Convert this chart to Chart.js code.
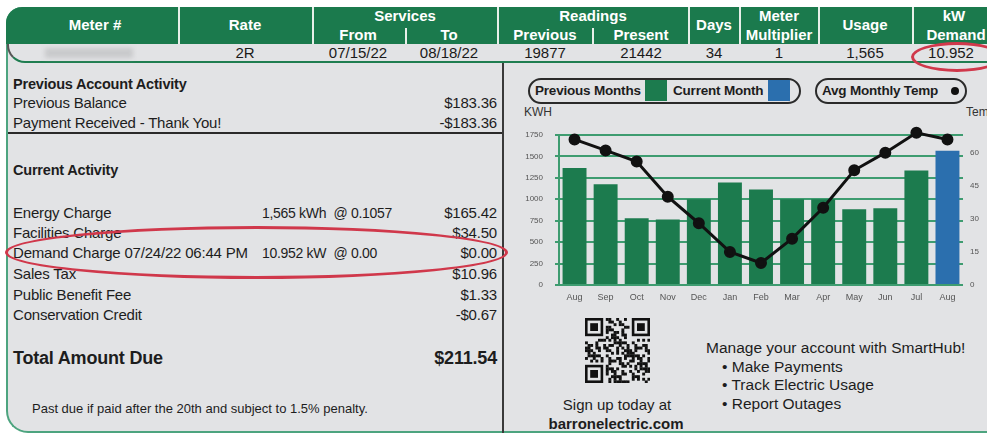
<!DOCTYPE html>
<html>
<head>
<meta charset="utf-8">
<script src="https://cdn.jsdelivr.net/npm/chart.js@4.4.0/dist/chart.umd.min.js"></script>
<style>
  html, body { margin: 0; padding: 0; background: #fff; }
  body { width: 987px; height: 435px; position: relative; overflow: hidden;
         font-family: "Liberation Sans", Arial, sans-serif; color: #1d1d1d; }
  .abs { position: absolute; white-space: nowrap; }
  #sheet { position: absolute; left: 6px; top: 7px; width: 995px; height: 424px; background: #e2e3e5;
           border-left: 2px solid #4da47f; border-bottom: 2px solid #4da47f; border-radius: 16px 0 0 22px; }
  #header { position: absolute; left: 6px; top: 7px; width: 995px; height: 37px; background: #1b7a4d;
            border-top-left-radius: 16px; }
  #rowline { position: absolute; left: 7px; top: 30px; width: 995px; height: 31px;
             border-left: 2px solid #555; border-bottom: 2px solid #1f7d50; border-bottom-left-radius: 18px; }
  .sep { position: absolute; width: 2px; background: #e8efe9; }
  .h { position: absolute; color: #fff; font-weight: bold; font-size: 15px; line-height: 18px;
       text-align: center; white-space: nowrap; transform: translateX(-50%); }
  .d { position: absolute; font-size: 15px; line-height: 18px; text-align: center; white-space: nowrap;
       transform: translateX(-50%); top: 44px; color: #1a1a1a; }
  .t { position: absolute; font-size: 15px; line-height: 18px; letter-spacing: -0.2px; white-space: nowrap; }
  .b { font-weight: bold; font-size: 14.5px; }
  .r { text-align: right; }
  .m { font-size: 14px; letter-spacing: -0.3px; }
  .pill { position: absolute; height: 26px; box-sizing: border-box; border: 2px solid #2a2a2a; border-radius: 14px; }
  .lg { position: absolute; font-weight: bold; font-size: 13.5px; line-height: 18px; letter-spacing: -0.2px; top: 82px; white-space: nowrap; }
  .sw { position: absolute; top: 80px; width: 22px; height: 21px; }
  .ell { position: absolute; border: 3px solid #d0384b; border-radius: 50%; box-sizing: border-box; }
</style>
</head>
<body>
<div id="sheet"></div>
<div id="rowline"></div>
<div id="header"></div>

<!-- header separators -->
<div class="sep" style="left:178px;top:7px;height:37px"></div>
<div class="sep" style="left:312px;top:7px;height:37px"></div>
<div class="sep" style="left:405px;top:28px;height:16px"></div>
<div class="sep" style="left:497px;top:7px;height:37px"></div>
<div class="sep" style="left:592px;top:28px;height:16px"></div>
<div class="sep" style="left:688px;top:7px;height:37px"></div>
<div class="sep" style="left:739px;top:7px;height:37px"></div>
<div class="sep" style="left:818px;top:7px;height:37px"></div>
<div class="sep" style="left:912px;top:7px;height:37px"></div>

<div class="h" style="left:95px;top:16px">Meter #</div>
<div class="h" style="left:245px;top:16px">Rate</div>
<div class="h" style="left:405px;top:7px">Services</div>
<div class="h" style="left:358px;top:26px">From</div>
<div class="h" style="left:449px;top:26px">To</div>
<div class="h" style="left:593px;top:7px">Readings</div>
<div class="h" style="left:545px;top:26px">Previous</div>
<div class="h" style="left:641px;top:26px">Present</div>
<div class="h" style="left:714px;top:16px">Days</div>
<div class="h" style="left:779px;top:7px">Meter</div>
<div class="h" style="left:779px;top:26px">Multiplier</div>
<div class="h" style="left:865px;top:16px">Usage</div>
<div class="h" style="left:954px;top:7px">kW</div>
<div class="h" style="left:956px;top:26px">Demand</div>

<!-- data row -->
<div class="abs" style="left:45px;top:48px;width:88px;height:10px;background:#c9cacc;filter:blur(2px)"></div>
<div class="d" style="left:245px">2R</div>
<div class="d" style="left:358px">07/15/22</div>
<div class="d" style="left:449px">08/18/22</div>
<div class="d" style="left:545px">19877</div>
<div class="d" style="left:641px">21442</div>
<div class="d" style="left:714px">34</div>
<div class="d" style="left:779px">1</div>
<div class="d" style="left:865px">1,565</div>
<div class="d" style="left:951px">10.952</div>

<!-- panel lines -->
<div class="abs" style="left:502px;top:63px;width:2px;height:370px;background:#3a3a3a"></div>
<div class="abs" style="left:8px;top:132px;width:494px;height:2px;background:#2a2a2a"></div>

<!-- left panel -->
<div class="t b" style="left:13px;top:75px">Previous Account Activity</div>
<div class="t" style="left:13px;top:94px">Previous Balance</div>
<div class="t r" style="right:490px;top:94px">$183.36</div>
<div class="t" style="left:13px;top:114px">Payment Received - Thank You!</div>
<div class="t r" style="right:490px;top:114px">-$183.36</div>

<div class="t b" style="left:13px;top:161px">Current Activity</div>
<div class="t" style="left:13px;top:204px">Energy Charge</div>
<div class="t m" style="left:262px;top:204px">1,565 kWh&nbsp; @ 0.1057</div>
<div class="t r" style="right:490px;top:204px">$165.42</div>
<div class="t" style="left:13px;top:224px">Facilities Charge</div>
<div class="t r" style="right:490px;top:224px">$34.50</div>
<div class="t" style="left:13px;top:244px">Demand Charge 07/24/22 06:44 PM</div>
<div class="t m" style="left:262px;top:244px">10.952 kW&nbsp; @ 0.00</div>
<div class="t r" style="right:490px;top:244px">$0.00</div>
<div class="t" style="left:13px;top:265px">Sales Tax</div>
<div class="t r" style="right:490px;top:265px">$10.96</div>
<div class="t" style="left:13px;top:286px">Public Benefit Fee</div>
<div class="t r" style="right:490px;top:286px">$1.33</div>
<div class="t" style="left:13px;top:306px">Conservation Credit</div>
<div class="t r" style="right:490px;top:306px">-$0.67</div>

<div class="t" style="left:13px;top:347px;font-weight:bold;font-size:18px;line-height:22px">Total Amount Due</div>
<div class="t r" style="right:490px;top:347px;font-weight:bold;font-size:18px;line-height:22px">$211.54</div>
<div class="t" style="left:32px;top:400px;font-size:13px;letter-spacing:0">Past due if paid after the 20th and subject to 1.5% penalty.</div>

<!-- chart legend -->
<div class="pill" style="left:528px;top:78px;width:273px"></div>
<div class="lg" style="left:535px">Previous Months</div>
<div class="sw" id="swPrev" style="left:645px"></div>
<div class="lg" style="left:673px">Current Month</div>
<div class="sw" id="swCur" style="left:768px"></div>
<div class="pill" style="left:815px;top:78px;width:152px"></div>
<div class="lg" style="left:822px">Avg Monthly Temp</div>
<div class="abs" style="left:951px;top:87px;width:8px;height:8px;border-radius:50%;background:#111"></div>

<div class="abs" style="left:524px;top:105px;font-size:12px;line-height:14px;color:#333">KWH</div>
<div class="abs" style="left:966px;top:105px;font-size:12px;line-height:14px;color:#333">Temp</div>

<canvas id="usageChart" width="482" height="200" style="position:absolute;left:505px;top:105px"></canvas>

<!-- right panel bottom -->
<canvas id="qr" width="65" height="65" style="position:absolute;left:585px;top:318px"></canvas>
<div class="t" style="left:617px;top:396px;transform:translateX(-50%);letter-spacing:0">Sign up today at</div>
<div class="t" style="left:616px;top:415px;transform:translateX(-50%);font-weight:bold;letter-spacing:0">barronelectric.com</div>
<div class="t" style="left:706px;top:339px;font-size:15.5px;letter-spacing:0">Manage your account with SmartHub!</div>
<div class="t" style="left:722px;top:358px;font-size:15.5px;letter-spacing:0">&bull; Make Payments</div>
<div class="t" style="left:722px;top:376px;font-size:15.5px;letter-spacing:0">&bull; Track Electric Usage</div>
<div class="t" style="left:722px;top:395px;font-size:15.5px;letter-spacing:0">&bull; Report Outages</div>

<!-- red annotation circles -->
<div class="ell" style="left:5px;top:226px;width:503px;height:53px"></div>
<div class="ell" style="left:911px;top:42px;width:92px;height:30px"></div>

<script>
// monthly usage, Aug 2021 .. Aug 2022
const months = ['Aug', 'Sep', 'Oct', 'Nov', 'Dec', 'Jan', 'Feb', 'Mar', 'Apr', 'May', 'Jun', 'Jul', 'Aug'];
const kwhUsage = [1365, 1175, 780, 765, 1000, 1195, 1115, 1000, 1000, 885, 895, 1335, 1565];
const avgTemp = [66, 61, 56, 40, 28, 15, 10, 21, 35, 52, 60, 69, 66];
const tempTicks = [0, 15, 30, 45, 60];

const green = '#1c7b4e';
const blue = '#2b6fae';
const gridGreen = '#3e9c70';

document.getElementById('swPrev').style.background = green;
document.getElementById('swCur').style.background = blue;

// last bar is the current month
var barColors = [];
for (var i = 0; i < months.length; i++) {
    barColors.push(i === months.length - 1 ? blue : green);
}

const tickFont = { family: '"Liberation Sans", Arial, sans-serif', size: 8 };

const usageChart = new Chart(document.getElementById('usageChart'), {
    type: 'bar',
    data: {
        labels: months,
        datasets: [{
            type: 'line',
            label: 'Avg Monthly Temp',
            data: avgTemp,
            yAxisID: 'yTemp',
            borderColor: '#111',
            borderWidth: 3,
            pointRadius: 4.5,
            pointBackgroundColor: '#111',
            pointBorderColor: '#111',
            tension: 0,
            clip: false,
            order: 0
        }, {
            type: 'bar',
            label: 'KWH',
            data: kwhUsage,
            yAxisID: 'yKwh',
            backgroundColor: barColors,
            barPercentage: 0.77,
            categoryPercentage: 1,
            order: 1
        }]
    },
    options: {
        responsive: false,
        animation: false,
        layout: { padding: { top: 30, left: 0, right: 0, bottom: 0 }, autoPadding: false },
        plugins: { legend: { display: false }, tooltip: { enabled: false } },
        scales: {
            x: {
                grid: { display: false, drawTicks: false },
                border: { display: false },
                ticks: { font: { family: tickFont.family, size: 9 }, color: '#555', padding: 7, maxRotation: 0, autoSkip: false },
                afterFit: function(s) { s.height = 20; }
            },
            yKwh: {
                position: 'left',
                min: 0,
                max: 1750,
                ticks: { stepSize: 250, font: tickFont, color: '#555', padding: 12,
                         callback: function(v) { return String(v); } },
                grid: { color: gridGreen, lineWidth: 2, tickLength: 4 },
                border: { color: gridGreen, width: 2 },
                afterFit: function(s) { s.width = 54; }
            },
            yTemp: {
                position: 'right',
                min: 0,
                max: 68,
                grid: { drawOnChartArea: false, drawTicks: false },
                border: { display: false },
                ticks: { font: tickFont, color: '#555', padding: 7 },
                afterBuildTicks: function(s) { s.ticks = tempTicks.map(function(v) { return { value: v }; }); },
                afterFit: function(s) { s.width = 24; }
            }
        }
    }
});

// QR-style square (decorative only)
(function() {
    var cv = document.getElementById('qr');
    var ctx = cv.getContext('2d');
    var n = 25, s = cv.width / n;
    ctx.fillStyle = '#e2e3e5';
    ctx.fillRect(0, 0, cv.width, cv.height);
    ctx.fillStyle = '#111';
    function finder(cx, cy) {
        ctx.fillRect(cx * s, cy * s, 7 * s, 7 * s);
        ctx.fillStyle = '#e2e3e5';
        ctx.fillRect((cx + 1) * s, (cy + 1) * s, 5 * s, 5 * s);
        ctx.fillStyle = '#111';
        ctx.fillRect((cx + 2) * s, (cy + 2) * s, 3 * s, 3 * s);
    }
    for (var y = 0; y < n; y++) {
        for (var x = 0; x < n; x++) {
            if ((x < 8 && y < 8) || (x > 16 && y < 8) || (x < 8 && y > 16)) continue;
            if (((x * 7 + y * 11 + (x * y) % 5) % 3) === 0 || ((x + 2 * y) % 7) === 1) {
                ctx.fillRect(x * s, y * s, s + 0.3, s + 0.3);
            }
        }
    }
    finder(0, 0); finder(18, 0); finder(0, 18);
})();
</script>
</body>
</html>
